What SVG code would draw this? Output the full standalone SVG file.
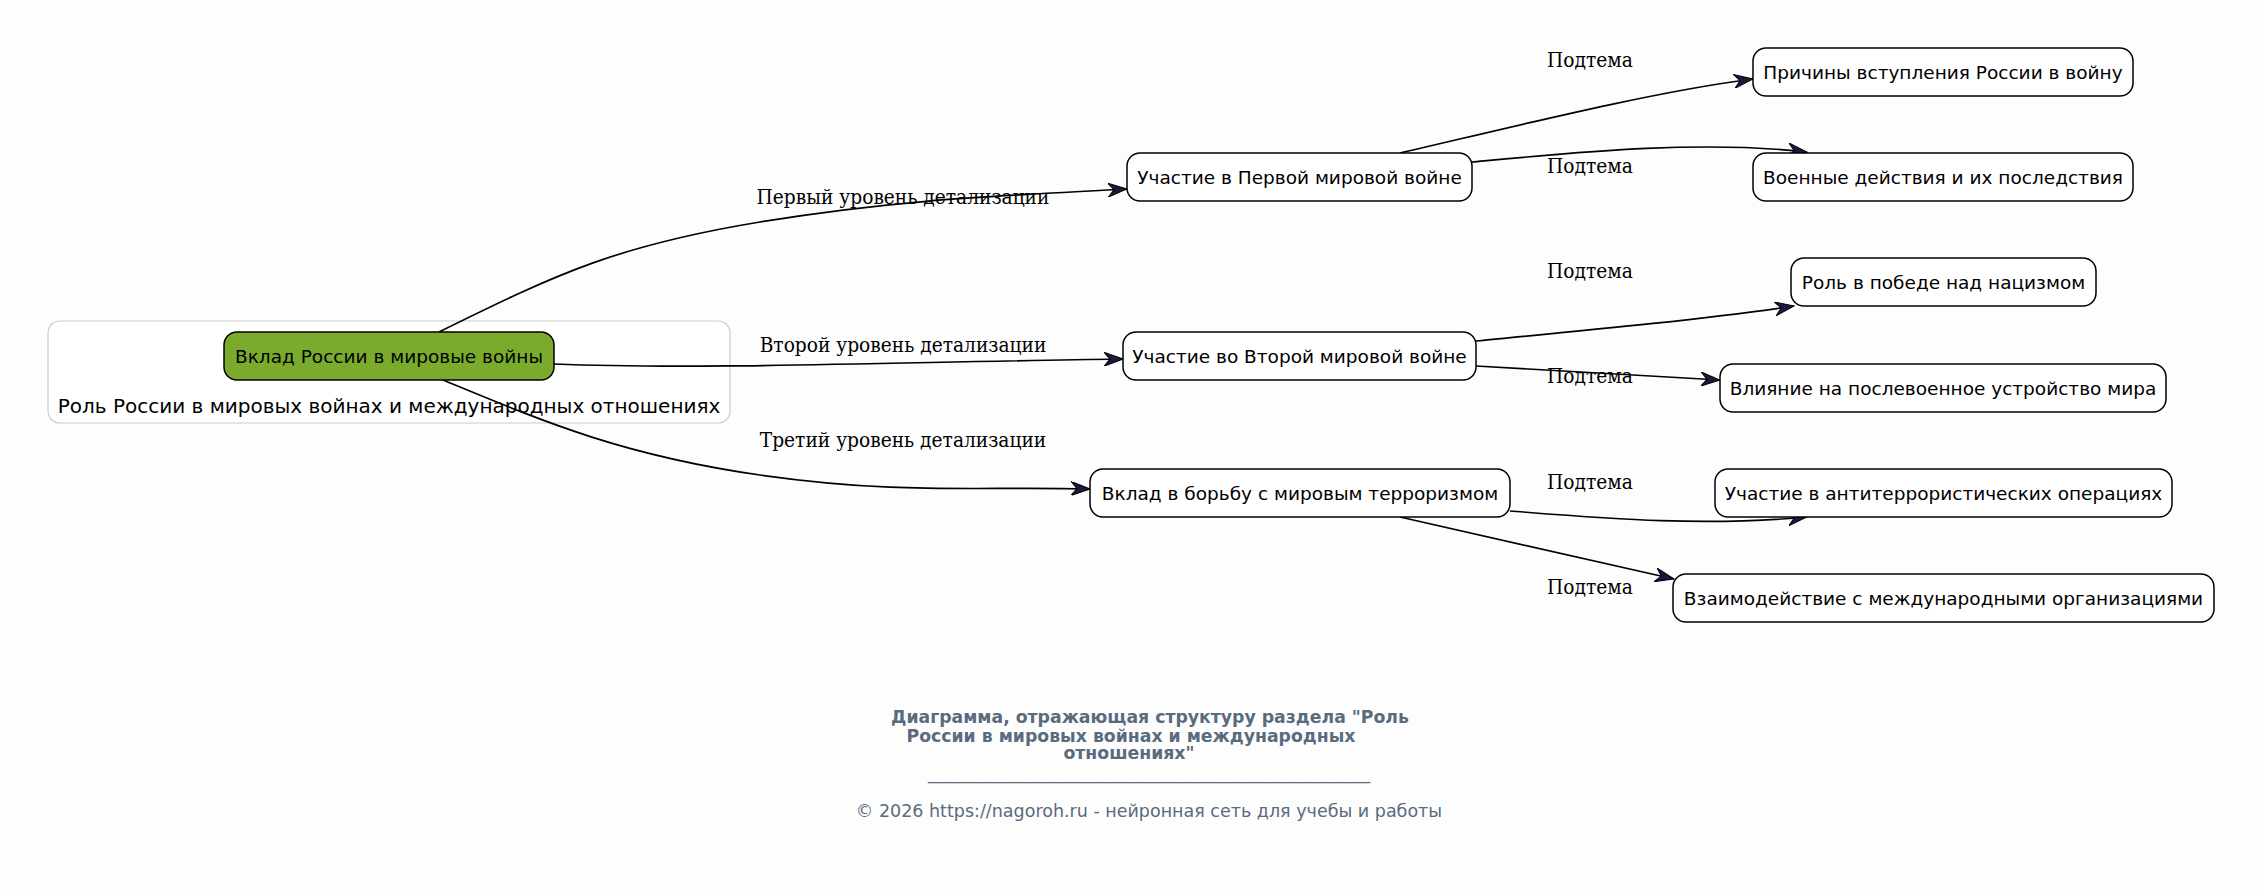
<svg xmlns="http://www.w3.org/2000/svg" width="2263" height="896" viewBox="0 0 2263 896">
<style>
.node rect{fill:#ffffff;stroke:#000;stroke-width:1.5}
.node text{font-family:"DejaVu Sans",sans-serif;font-size:18.5px;fill:#000;text-anchor:middle}
.edge path{fill:none;stroke:#000;stroke-width:1.7;marker-end:url(#vee)}
.elabel{font-family:"DejaVu Serif Condensed","DejaVu Serif",serif;font-stretch:condensed;font-size:20.7px;fill:#000;text-anchor:middle}
.foot{font-family:"DejaVu Sans",sans-serif;fill:#5a6b7d;text-anchor:middle}
</style>
<defs>
<marker id="vee" viewBox="0 0 20 14" refX="19" refY="7" markerWidth="20" markerHeight="14" markerUnits="userSpaceOnUse" orient="auto">
<path d="M0,0 L19,7 L0,14 L6,7 z" fill="#1c1840" stroke="#000" stroke-width="1"/>
</marker>
</defs>
<rect x="0" y="0" width="2263" height="896" fill="#fdfdfd"/>
<g id="cluster">
<rect x="48" y="321" width="682" height="102" rx="12" fill="#ffffff" stroke="#cccccc" stroke-width="1.2"/>
<text x="389" y="413" font-family="DejaVu Sans, sans-serif" font-size="20px" text-anchor="middle" fill="#000">Роль России в мировых войнах и международных отношениях</text>
</g>
<g id="edges">
<g class="edge"><path d="M439,332 C560,272 620,245 760,222 S1000,196 1127,189"/></g>
<g class="edge"><path d="M554,364 C700,370 900,362 1123,359"/></g>
<g class="edge"><path d="M443,380 C540,420 620,455 760,475 S980,486 1090,489"/></g>
<g class="edge"><path d="M1400,153 C1500,130 1650,92 1753,79"/></g>
<g class="edge"><path d="M1472,162 C1580,152 1700,140 1807,152"/></g>
<g class="edge"><path d="M1476,341 C1580,331 1700,320 1794,306"/></g>
<g class="edge"><path d="M1476,366 C1560,371 1640,376 1720,380"/></g>
<g class="edge"><path d="M1510,511 C1600,518 1700,527 1807,517"/></g>
<g class="edge"><path d="M1400,517 L1674,579"/></g>
<text class="elabel" x="903" y="204">Первый уровень детализации</text>
<text class="elabel" x="903" y="352">Второй уровень детализации</text>
<text class="elabel" x="903" y="447">Третий уровень детализации</text>
<text class="elabel" x="1590" y="67">Подтема</text>
<text class="elabel" x="1590" y="173">Подтема</text>
<text class="elabel" x="1590" y="278">Подтема</text>
<text class="elabel" x="1590" y="383">Подтема</text>
<text class="elabel" x="1590" y="489">Подтема</text>
<text class="elabel" x="1590" y="594">Подтема</text>
</g>
<g id="root" class="node"><rect x="224" y="332" width="330" height="48" rx="13" style="fill:#7aab2d"/><text x="389" y="362.5">Вклад России в мировые войны</text></g>
<g id="ww1" class="node"><rect x="1127" y="153" width="345" height="48" rx="13"/><text x="1299.5" y="183.5">Участие в Первой мировой войне</text></g>
<g id="ww2" class="node"><rect x="1123" y="332" width="353" height="48" rx="13"/><text x="1299.5" y="362.5">Участие во Второй мировой войне</text></g>
<g id="terror" class="node"><rect x="1090" y="469" width="420" height="48" rx="13"/><text x="1300" y="499.5">Вклад в борьбу с мировым терроризмом</text></g>
<g id="a1" class="node"><rect x="1753" y="48" width="380" height="48" rx="13"/><text x="1943" y="78.5">Причины вступления России в войну</text></g>
<g id="a2" class="node"><rect x="1753" y="153" width="380" height="48" rx="13"/><text x="1943" y="183.5">Военные действия и их последствия</text></g>
<g id="b1" class="node"><rect x="1791" y="258" width="305" height="48" rx="13"/><text x="1943.5" y="288.5">Роль в победе над нацизмом</text></g>
<g id="b2" class="node"><rect x="1720" y="364" width="446" height="48" rx="13"/><text x="1943" y="394.5">Влияние на послевоенное устройство мира</text></g>
<g id="c1" class="node"><rect x="1715" y="469" width="457" height="48" rx="13"/><text x="1943.5" y="499.5">Участие в антитеррористических операциях</text></g>
<g id="c2" class="node"><rect x="1673" y="574" width="541" height="48" rx="13"/><text x="1943.5" y="604.5">Взаимодействие с международными организациями</text></g>
<g id="footer">
<text class="foot" x="1150" y="723" font-size="17.3px" font-weight="bold">Диаграмма, отражающая структуру раздела "Роль</text>
<text class="foot" x="1131" y="742" font-size="17.3px" font-weight="bold">России в мировых войнах и международных</text>
<text class="foot" x="1129" y="759" font-size="17.3px" font-weight="bold">отношениях"</text>
<text class="foot" x="1149" y="779" font-size="17px" textLength="442" lengthAdjust="spacingAndGlyphs">______________________________________________</text>
<text class="foot" x="1149" y="817" font-size="17.5px">© 2026 https://nagoroh.ru - нейронная сеть для учебы и работы</text>
</g>
</svg>
